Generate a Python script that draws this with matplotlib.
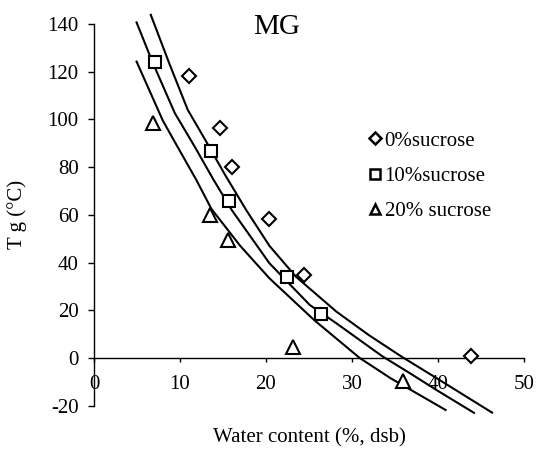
import matplotlib
matplotlib.use("Agg")
import matplotlib.pyplot as plt
from matplotlib.lines import Line2D

plt.rcParams['font.family'] = ['Liberation Serif', 'DejaVu Serif']
plt.rcParams['axes.unicode_minus'] = False

# points mesures
x_0 = [11.1, 14.6, 16.0, 20.4, 24.4, 43.8]
y_0 = [118, 96.5, 80, 58.3, 34.8, 1.0]
x_10 = [7.1, 13.65, 15.7, 22.4, 26.4]
y_10 = [124, 86.6, 65.6, 34.1, 18.4]
x_20 = [6.9, 13.5, 15.6, 23.2, 35.9]
y_20 = [98.5, 60, 49.5, 4.5, -9.5]

# courbes
top_x = [6.6, 8.8, 10.9, 13.0, 15.2, 17.7, 20.4, 23.5, 28.2, 32.0, 35.8, 40.0, 46.3]
top_y = [143.8, 123, 104, 91, 77, 62, 47, 34, 19.4, 9.5, 0.5, -8.8, -22.9]
mid_x = [4.95, 6.8, 9.4, 11.8, 13.85, 16.0, 20.4, 22.2, 25.1, 28.2, 33.5, 36.7, 40.0, 44.2]
mid_y = [140.6, 124, 102.6, 88, 75, 62.1, 39.7, 33, 22.2, 14.5, 0.8, -6.3, -13.8, -23]
low_x = [4.95, 8.0, 9.4, 11.9, 13.65, 17.0, 20.4, 25.6, 30.9, 34.5, 40.9]
low_y = [124.2, 99.5, 90.5, 74.6, 62.5, 47.0, 33.4, 15.9, 0, -8.5, -21.8]

labels = ["0%sucrose", "10%sucrose", "20% sucrose"]

fig = plt.figure(figsize=(5.36, 4.54), dpi=100)
ax = fig.add_axes([0.1754, 0.1064, 0.802, 0.841])

for cx, cy in [(top_x, top_y), (mid_x, mid_y), (low_x, low_y)]:
    ax.plot(cx, cy, color='black', lw=1.5, clip_on=False)

mk = dict(linestyle='none', mfc='white', mec='black', mew=1.5, clip_on=False, zorder=3)
ax.plot(x_0, y_0, marker='D', ms=7.5, **mk)
ax.plot(x_10, y_10, marker='s', ms=9, **mk)
ax.plot(x_20, y_20, marker='^', ms=10.5, **mk)

ax.set_xlim(0, 50)
ax.set_ylim(-20, 140)
ax.set_xticks(range(0, 51, 10))
ax.set_yticks(range(-20, 141, 20))

ax.spines['top'].set_visible(False)
ax.spines['right'].set_visible(False)
ax.spines['bottom'].set_position(('data', 0))
for s in ['left', 'bottom']:
    ax.spines[s].set_linewidth(1.0)
ax.tick_params(axis='y', direction='out', length=4, width=1, pad=7, labelsize=15)
ax.tick_params(axis='x', direction='out', length=3, width=1, pad=9, labelsize=15)

ax.set_xlabel("Water content (%, dsb)", fontsize=15)
ax.xaxis.set_label_coords(0.5, -0.058)
ax.set_ylabel("T g (°C)", fontsize=15)
ax.yaxis.set_label_coords(-0.155, 0.5)

ax.text(21.2, 138.5, "MG", fontsize=21, ha='center', va='center')

handles = [
    Line2D([], [], marker='D', ls='none', mfc='white', mec='black', mew=1.8, ms=6),
    Line2D([], [], marker='s', ls='none', mfc='white', mec='black', mew=1.8, ms=7),
    Line2D([], [], marker='^', ls='none', mfc='white', mec='black', mew=1.8, ms=7.5),
]
ax.legend(handles, labels, loc='upper left', bbox_to_anchor=(369 / 536, 1 - 131 / 454),
          bbox_transform=fig.transFigure, frameon=False, fontsize=15,
          handlelength=0.6, handletextpad=0.15, labelspacing=0.75,
          borderpad=0, borderaxespad=0)

fig.savefig("out.png", dpi=100)
